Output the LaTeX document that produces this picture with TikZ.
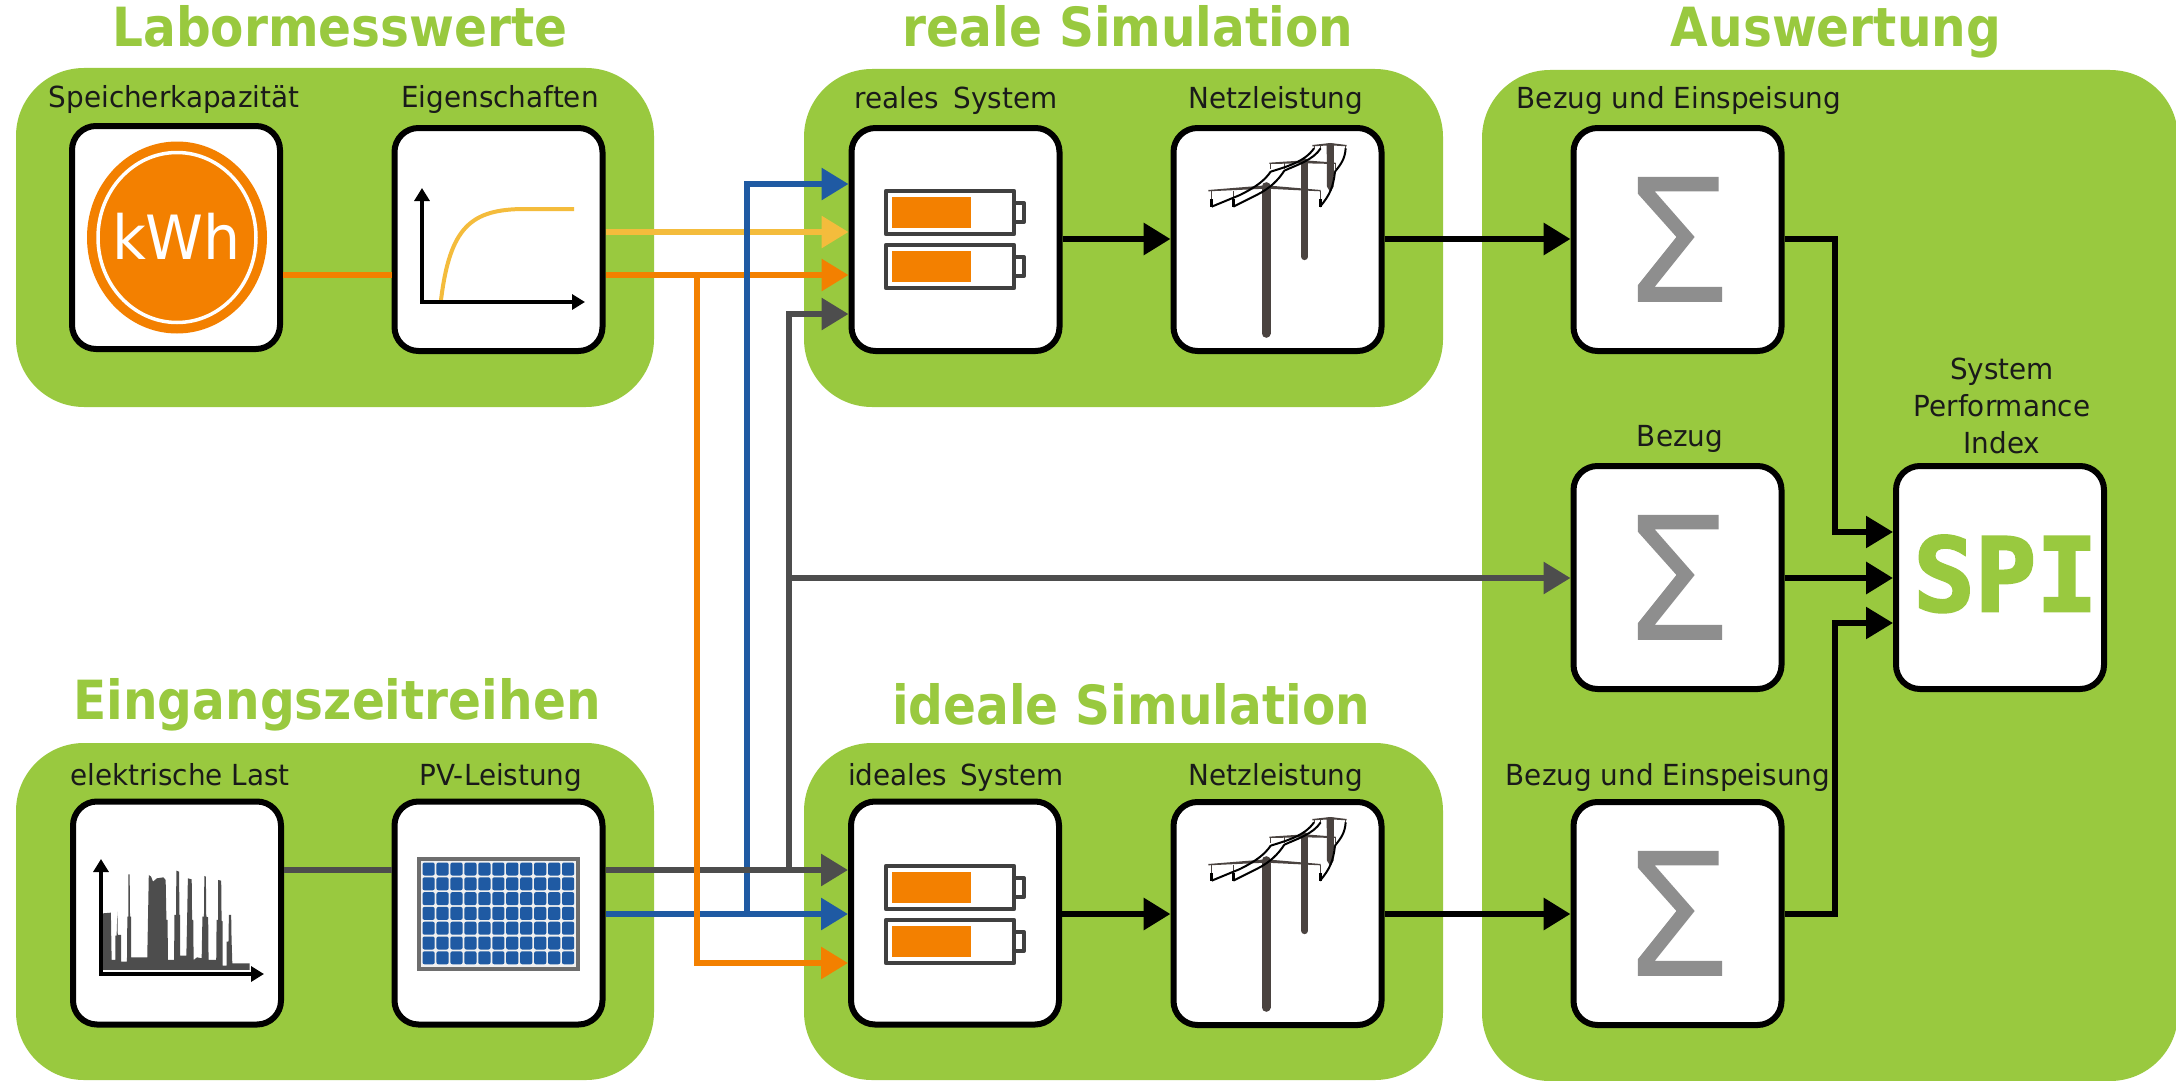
\documentclass[tikz,border=0pt]{standalone}
\usepackage{fontspec}
\setmainfont{DejaVu Sans}[FakeStretch=0.96]
\newfontfamily\headfont{DejaVu Sans Bold}[FakeStretch=0.90]
\newfontfamily\spifont{DejaVu Sans Mono Bold}[FakeBold=2.5]
\usetikzlibrary{arrows.meta}
\definecolor{pgreen}{HTML}{99C93F}
\definecolor{porange}{HTML}{F38000}
\definecolor{pyellow}{HTML}{F4BC3C}
\definecolor{pblue}{HTML}{1F5AA3}
\definecolor{pgray}{HTML}{4D4D4D}
\definecolor{pbatt}{HTML}{404040}
\definecolor{psigma}{HTML}{8E8E8E}
\definecolor{ppole}{HTML}{4A4340}
\definecolor{ptext}{HTML}{1A1A1A}
\tikzset{
  panel/.style={rectangle,fill=pgreen,rounded corners=68pt,inner sep=0pt,outer sep=0pt},
  boxnode/.style={rectangle,draw=black,fill=white,line width=6pt,rounded corners=24pt,
    minimum width=208pt,minimum height=223pt,inner sep=0pt},
  head/.style={text=pgreen,anchor=base,inner sep=0pt,font=\headfont\fontsize{54}{60}\selectfont},
  lab/.style={text=ptext,anchor=base,inner sep=0pt,font=\fontsize{29}{34}\selectfont},
  conn/.style={line width=6pt},
  arr/.style={conn,-{Triangle[length=27pt,width=31pt]}},
  blackarr/.style={line width=6.5pt,-{Triangle[length=27pt,width=31pt]},black,line join=miter},
  axis/.style={line width=4pt,-{Triangle[length=13pt,width=15pt]}},
}
% battery pair, drawn in pixel coordinates of the upper system
\newcommand{\batterypair}[1]{%
  \begin{scope}[shift={(0,#1)}]
    \foreach \yy in {0,54}{
      \fill[porange] (892,197+\yy) rectangle (971,228+\yy);
      \draw[pbatt,line width=4.5pt,line join=round] (886,191+\yy) rectangle (1014,234+\yy);
      \draw[pbatt,line width=4pt,line join=round] (1016,203+\yy) -- (1024,203+\yy) -- (1024,222+\yy) -- (1016,222+\yy);
    }
  \end{scope}}
\newcommand{\powerlines}[1]{%
  \begin{scope}[shift={(1190,130+#1)},xscale=.3333,yscale=.3333]
    \draw[ppole,line width=9pt,line cap=round] (228,170) -- (228,610);
    \draw[ppole,line width=7pt,line cap=round] (344,95) -- (344,380);
    \fill[ppole] (410,41) -- (432,41) -- (431,170) -- (421,186) -- (411,170) -- cycle;
    \fill[ppole] (55,180) -- (228,166) -- (392,180) -- (392,184) -- (228,176) -- (55,184) -- cycle;
    \fill[ppole] (238,98) -- (344,91) -- (437,98) -- (437,102) -- (344,100) -- (238,102) -- cycle;
    \fill[ppole] (367,45) -- (421,39) -- (470,45) -- (470,49) -- (421,46) -- (367,49) -- cycle;
    \draw[ppole,line width=1pt] (65,182) -- (65,210) (130,182) -- (130,210) (390,182) -- (390,210)
      (242,100) -- (242,118) (283,100) -- (283,118) (435,100) -- (435,118)
      (372,47) -- (372,56) (392,47) -- (392,56) (467,47) -- (467,56);
    \draw[black,line width=3pt] (65,208) -- (65,230) (130,208) -- (130,230) (390,208) -- (390,230);
    \draw[black,line width=2pt] (65,230) -- (150,195) .. controls (200,170) and (225,150) .. (242,125)
      (130,230) -- (200,195) .. controls (240,175) and (265,150) .. (283,122)
      (390,230) .. controls (420,195) and (430,170) .. (435,125)
      (242,125) .. controls (290,110) and (345,95) .. (372,55)
      (283,122) .. controls (320,105) and (370,90) .. (392,55)
      (435,125) .. controls (455,100) and (465,85) .. (467,55);
  \end{scope}}
\newcommand{\sigmaglyph}[1]{%
  \begin{scope}[shift={(1480,#1)},xscale=.4444,yscale=.3333]
    \fill[psigma] (355,525) -- (537,525) -- (537,568) -- (393,568) -- (483,705) -- (393,855)
      -- (545,855) -- (545,900) -- (355,900) -- (355,850) -- (442,705) -- (355,575) -- cycle;
  \end{scope}}
\begin{document}
\begin{tikzpicture}[x=1pt,y=-1pt]
\useasboundingbox (0,0) rectangle (2176,1081);
% panels
\node[panel,minimum width=638pt,minimum height=339pt] (pLab) at (335,237.5) {};
\node[panel,minimum width=639pt,minimum height=338pt] (pReal) at (1123.5,238) {};
\node[panel,minimum width=638pt,minimum height=337pt] (pEin) at (335,911.5) {};
\node[panel,minimum width=639pt,minimum height=337pt] (pIdeal) at (1123.5,911.5) {};
\node[panel,minimum width=696pt,minimum height=1011pt] (pAus) at (1830,575.5) {};
% headings
\node[head] (hLab) at (340,47) {Labormesswerte};
\node[head] (hReal) at (1128,47) {reale Simulation};
\node[head] (hAus) at (1836,47) {Auswertung};
\node[head] (hEin) at (337,719) {Eingangszeitreihen};
\node[head] (hIdeal) at (1131,724) {ideale Simulation};
% boxes
\node[boxnode] (spk) at (176,237.5) {};
\node[boxnode] (eig) at (498.5,239.5) {};
\node[boxnode] (real) at (955.5,239.5) {};
\node[boxnode] (netzA) at (1277.5,239.5) {};
\node[boxnode] (sigA) at (1677.5,239.5) {};
\node[boxnode] (sigB) at (1677.5,577.5) {};
\node[boxnode] (sigC) at (1677.5,913.5) {};
\node[boxnode] (spi) at (2000,577.5) {};
\node[boxnode] (load) at (177,913) {};
\node[boxnode] (pv) at (498.5,913) {};
\node[boxnode] (ideal) at (955,913) {};
\node[boxnode] (netzB) at (1277.5,913.5) {};
% labels
\node[lab] (l1) at (174,107) {Speicherkapazität};
\node[lab] (l2) at (500,107) {Eigenschaften};
\node[lab] (l3) at (956,108) {reales\hspace{.2em} System};
\node[lab] (l4) at (1276,108) {Netzleistung};
\node[lab] (l5) at (1679,108) {Bezug und Einspeisung};
\node[lab] (l6) at (1680,446) {Bezug};
\node[lab] (l7) at (2002,379) {System};
\node[lab] (l8) at (2002,416) {Performance};
\node[lab] (l9) at (2002,453) {Index};
\node[lab] (l10) at (180,785) {elektrische Last};
\node[lab] (l11) at (501,785) {PV-Leistung};
\node[lab] (l12) at (956,785) {ideales\hspace{.15em} System};
\node[lab] (l13) at (1276,785) {Netzleistung};
\node[lab] (l14) at (1668,785) {Bezug und Einspeisung};
% kWh
\fill[porange] (177,237.5) ellipse [x radius=90,y radius=96];
\draw[white,line width=3.5pt] (177,237.5) ellipse [x radius=79,y radius=85];
\node[text=white,anchor=base,inner sep=0pt,font=\fontsize{61}{66}\selectfont] (kwh) at (176.5,259) {kWh};
% characteristic curve
\draw[pyellow,line width=4pt] (441,300) .. controls (450,228) and (470,209) .. (525,209) -- (574,209);
\draw[axis] (422,302) -- (422,188);
\draw[axis,line width=4.5pt] (420,302) -- (585,302);
% load profile
\begin{scope}[shift={(40,760)},xscale=.3831,yscale=.3333]
  \fill[pgray] (165,630) -- (165,460) -- (185,458) -- (187,600) -- (197,600) -- (197,527) -- (200,527) -- (202,455) -- (203,525) -- (212,525) -- (212,605) -- (227,605) -- (228,470) -- (231,470) -- (231,343) -- (234,343) -- (235,470) -- (238,470) -- (238,592) -- (280,592) -- (282,470) -- (284,345) -- (290,350) -- (295,365) -- (305,355) -- (322,352) -- (328,360) -- (330,480) -- (333,480) -- (334,600) -- (350,600) -- (351,465) -- (355,465) -- (356,332) -- (363,335) -- (364,465) -- (366,465) -- (366,587) -- (382,587) -- (384,480) -- (386,355) -- (396,358) -- (397,480) -- (400,480) -- (401,600) -- (410,592) -- (422,595) -- (424,470) -- (428,470) -- (429,348) -- (433,350) -- (434,470) -- (439,472) -- (440,600) -- (460,600) -- (461,480) -- (465,480) -- (465,360) -- (473,362) -- (474,482) -- (477,485) -- (477,617) -- (487,617) -- (487,545) -- (492,545) -- (493,465) -- (499,465) -- (500,537) -- (502,610) -- (547,610) -- (547,630) -- cycle;
\end{scope}
\draw[axis] (101,974) -- (101,859);
\draw[axis] (99,974) -- (264,974);
% PV module
\draw[draw=black!57,fill=black!6,line width=4pt] (419,859) rectangle (578,969);
\foreach \i in {0,...,10}{\foreach \j in {0,...,6}{
  \fill[pblue,rounded corners=2pt] (422.5+13.95*\i,862.5+14.8*\j) rectangle ++(12.2,13);
}}
% batteries and pylons
\batterypair{0}
\batterypair{675}
\powerlines{0}
\powerlines{674}
% sigma glyphs
\sigmaglyph{2}
\sigmaglyph{340}
\sigmaglyph{676}
\node[text=pgreen,anchor=base,inner sep=0pt,font=\spifont\fontsize{102}{108}\selectfont] (spitxt) at (2005.5,611) {SPI};
% connectors
\coordinate (jBlue) at (747,914);
\coordinate (jGray) at (789,870);
\coordinate (jGrayB) at (789,578);
\coordinate (jOr) at (697,275);
\draw[conn,porange] (spk.east |- 0,275) -- (eig.west |- 0,275);
\draw[arr,pyellow] (eig.east |- 0,232) -- (real.west |- 0,232);
\draw[arr,porange] (eig.east |- 0,275) -- (real.west |- 0,275);
\draw[conn,pgray] (load.east |- 0,870) -- (pv.west |- 0,870);
\draw[arr,pblue] (pv.east |- 0,914) -- (ideal.west |- 0,914);
\draw[arr,pblue,line join=miter] (jBlue) -- (jBlue |- 0,184) -- (real.west |- 0,184);
\draw[arr,pgray] (pv.east |- 0,870) -- (ideal.west |- 0,870);
\draw[arr,pgray,line join=miter] (jGray) -- (jGray |- 0,314) -- (real.west |- 0,314);
\draw[arr,pgray] (jGrayB) -- (sigB.west |- 0,578);
\draw[arr,porange,line join=miter] (jOr) -- (jOr |- 0,963) -- (ideal.west |- 0,963);
\draw[blackarr] (real.east |- 0,239) -- (netzA.west |- 0,239);
\draw[blackarr] (ideal.east |- 0,914) -- (netzB.west |- 0,914);
\draw[blackarr] (netzA.east |- 0,239) -- (sigA.west |- 0,239);
\draw[blackarr] (netzB.east |- 0,914) -- (sigC.west |- 0,914);
\draw[blackarr,line width=5.5pt] (sigA.east |- 0,239) -- (1835,239) -- (1835,532) -- (spi.west |- 0,532);
\draw[blackarr] (sigB.east |- 0,578) -- (spi.west |- 0,578);
\draw[blackarr,line width=5.5pt] (sigC.east |- 0,914) -- (1835,914) -- (1835,623) -- (spi.west |- 0,623);
\end{tikzpicture}
\end{document}
